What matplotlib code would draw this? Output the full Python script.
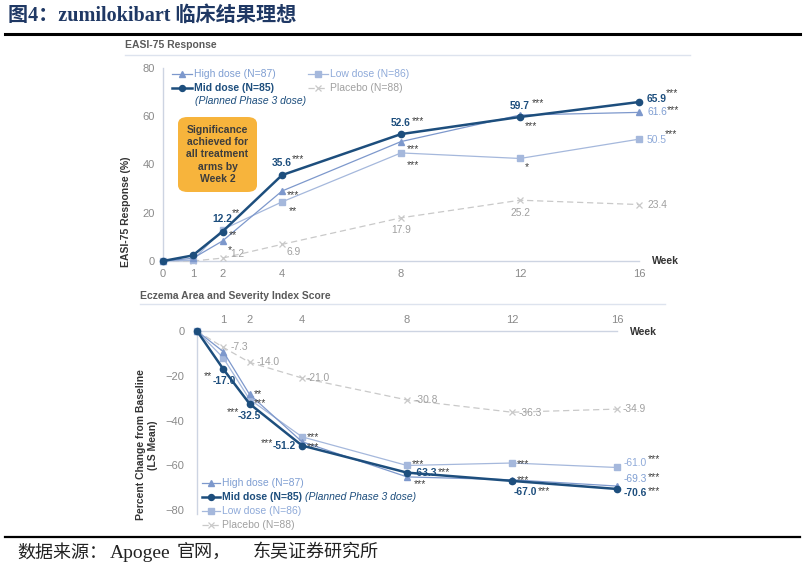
import matplotlib
matplotlib.use("Agg")
import matplotlib.pyplot as plt
from matplotlib.patches import FancyBboxPatch
from matplotlib.lines import Line2D

plt.rcParams["font.family"] = ["Liberation Sans", "DejaVu Sans"]

# ---------------- data ----------------
weeks = [0, 1, 2, 4, 8, 12, 16]
easi_high = [0, 1.1, 8.3, 29.0, 49.5, 60.5, 61.6]
easi_mid = [0, 2.3, 12.2, 35.6, 52.6, 59.7, 65.9]
easi_low = [0, 0.3, 13.0, 24.5, 44.8, 42.5, 50.5]
easi_pbo = [0, 0, 1.2, 6.9, 17.9, 25.2, 23.4]

chg_high = [0, -9.2, -28.3, -49.5, -65.2, -66.5, -69.3]
chg_mid = [0, -17.0, -32.5, -51.2, -63.3, -67.0, -70.6]
chg_low = [0, -12.0, -30.5, -47.3, -60.1, -59.0, -61.0]
chg_pbo = [0, -7.3, -14.0, -21.0, -30.8, -36.3, -34.9]

top_yticks = [0, 20, 40, 60, 80]
bot_yticks = [0, -20, -40, -60, -80]
bot_xticks = [1, 2, 4, 8, 12, 16]

series_names = ["High dose (N=87)", "Mid dose (N=85)", "Low dose (N=86)", "Placebo (N=88)"]

# ---------------- style ----------------
C_MID = "#1d4e7d"
C_HIGH = "#7d98cc"
C_LOW = "#a5b8dc"
C_PBO = "#c9c9c9"
C_HIGH_T = "#7f9ed2"
C_LOW_T = "#8faad9"
C_PBO_T = "#a0a0a0"
C_STAR = "#404040"
C_AX = "#cdd4e2"
C_TICK = "#8a8a8a"

W, H = 805, 571
fig = plt.figure(figsize=(W / 100, H / 100), dpi=100)
fig.patch.set_facecolor("white")


def fx(x):
    return x / W


def fy(y):
    return 1 - y / H


def axes_px(l, t, r, b):
    return fig.add_axes([fx(l), fy(b), (r - l) / W, (b - t) / H])


STY = {
    "high": dict(color=C_HIGH, lw=0.9, marker="^", ms=4.5, mfc=C_HIGH, mec=C_HIGH),
    "mid": dict(color=C_MID, lw=1.8, marker="o", ms=4.5, mfc=C_MID, mec=C_MID),
    "low": dict(color=C_LOW, lw=0.9, marker="s", ms=4.8, mfc=C_LOW, mec=C_LOW),
    "pbo": dict(color=C_PBO, lw=0.9, ls=(0, (5, 3)), marker="x", ms=4, mew=0.9, mfc=C_PBO, mec=C_PBO),
}

PX = 0.72  # pixels -> points
LFS = 7.4


def lab(ax, x, y, s, dx, dy, kind, ha="center"):
    props = {
        "mid": dict(color=C_MID, fontsize=LFS, fontweight="bold"),
        "high": dict(color=C_HIGH_T, fontsize=LFS),
        "low": dict(color=C_LOW_T, fontsize=LFS),
        "pbo": dict(color=C_PBO_T, fontsize=LFS),
        "star": dict(color=C_STAR, fontsize=7.5),
    }[kind]
    if kind == "star":
        dy = dy + 3  # asterisks sit high in the text box
    ax.annotate(s, (x, y), xytext=(dx * PX, -dy * PX), textcoords="offset points",
                ha=ha, va="center", annotation_clip=False, **props)


# ---------------- title & frame ----------------
SERIF_CJK = ["Liberation Serif", "Noto Sans CJK SC"]
fig.text(fx(8), fy(16), "图4：zumilokibart 临床结果理想", fontsize=14.5, fontweight="bold",
         color="#1f3864", family=SERIF_CJK, ha="left", va="center")
fig.add_artist(Line2D([fx(5), fx(800)], [fy(34), fy(34)], color="black", lw=2.2))
fig.add_artist(Line2D([fx(5), fx(800)], [fy(537), fy(537)], color="black", lw=1.6))
for sx, stext, sfs in [(17, "数据来源：", 13), (110, "Apogee", 14), (177, "官网，", 13),
                       (253, "东吴证券研究所", 13)]:
    fig.text(fx(sx), fy(553), stext, fontsize=sfs, color="#222222", family=SERIF_CJK,
             ha="left", va="center")

# ---------------- top panel ----------------
fig.text(fx(125), fy(45), "EASI-75 Response", fontsize=7.5, fontweight="bold", color="#5a5a5a",
         ha="left", va="center")
fig.add_artist(Line2D([fx(125), fx(690)], [fy(55), fy(55)], color="#dde3ee", lw=1.0))

ax1 = axes_px(163, 68, 639, 261)
for key, data in zip(["pbo", "low", "high", "mid"], [easi_pbo, easi_low, easi_high, easi_mid]):
    ax1.plot(weeks, data, clip_on=False, zorder=3 + (key == "mid"), **STY[key])
ax1.set_xlim(0, 16)
ax1.set_ylim(0, 80)
ax1.set_xticks(weeks)
ax1.set_yticks(top_yticks)
ax1.tick_params(length=0, labelsize=8, labelcolor=C_TICK, pad=6)
for s in ["top", "right"]:
    ax1.spines[s].set_visible(False)
for s in ["left", "bottom"]:
    ax1.spines[s].set_color(C_AX)
    ax1.spines[s].set_linewidth(1.0)
ax1.set_facecolor("none")
ax1.set_ylabel("EASI-75 Response (%)", fontsize=7.5, fontweight="bold", color="#333333")
ax1.yaxis.set_label_coords((131 - 163) / 476, (261 - 212) / 193)
fig.text(fx(652), fy(261), "Week", fontsize=7.5, fontweight="bold", color="#333333", ha="left", va="center")

# labels top (mid)
lab(ax1, 2, easi_mid[2], "12.2", 0, -13, "mid")
lab(ax1, 2, easi_mid[2], "**", 13, -21, "star")
lab(ax1, 4, easi_mid[3], "35.6", 0, -12, "mid")
lab(ax1, 4, easi_mid[3], "***", 16, -19, "star")
lab(ax1, 8, easi_mid[4], "52.6", 0, -11, "mid")
lab(ax1, 8, easi_mid[4], "***", 17, -16, "star")
lab(ax1, 12, easi_mid[5], "59.7", 0, -11, "mid")
lab(ax1, 12, easi_mid[5], "***", 18, -17, "star")
lab(ax1, 16, easi_mid[6], "65.9", 8, -3, "mid", ha="left")
lab(ax1, 16, easi_mid[6], "***", 33, -12, "star")
# high
lab(ax1, 2, easi_high[2], "*", 7, 6, "star")
lab(ax1, 4, easi_high[3], "***", 11, 1, "star")
lab(ax1, 8, easi_high[4], "***", 12, 4, "star")
lab(ax1, 12, easi_high[5], "***", 11, 8, "star")
lab(ax1, 16, easi_high[6], "61.6", 8, 0, "high", ha="left")
lab(ax1, 16, easi_high[6], "***", 34, -5, "star")
# low
lab(ax1, 2, easi_low[2], "**", 10, 2, "star")
lab(ax1, 4, easi_low[3], "**", 11, 6, "star")
lab(ax1, 8, easi_low[4], "***", 12, 9, "star")
lab(ax1, 12, easi_low[5], "*", 7, 6, "star")
lab(ax1, 16, easi_low[6], "50.5", 8, 1, "low", ha="left")
lab(ax1, 16, easi_low[6], "***", 32, -8, "star")
# placebo
lab(ax1, 2, easi_pbo[2], "1.2", 15, -4, "pbo")
lab(ax1, 4, easi_pbo[3], "6.9", 12, 8, "pbo")
lab(ax1, 8, easi_pbo[4], "17.9", 0, 12, "pbo")
lab(ax1, 12, easi_pbo[5], "25.2", 0, 13, "pbo")
lab(ax1, 16, easi_pbo[6], "23.4", 8, 0, "pbo", ha="left")


def legend_item(x0, x1, y, key, text, tcolor, bold=False, fs=7.5):
    st = dict(STY[key])
    st["ms"] = st["ms"] * 0.95
    fig.add_artist(Line2D([fx(x0), fx(x1)], [fy(y), fy(y)], **st, markevery=[]))
    fig.add_artist(Line2D([fx((x0 + x1) / 2)], [fy(y)], **{k: v for k, v in st.items() if k not in ("ls",)}))
    return fig.text(fx(x1 + 2), fy(y), text, fontsize=fs, color=tcolor,
                    fontweight="bold" if bold else "normal", ha="left", va="center")


legend_item(172, 192, 74, "high", series_names[0], C_HIGH_T)
legend_item(308, 328, 74, "low", series_names[2], C_LOW_T)
legend_item(172, 192, 88, "mid", series_names[1], C_MID, bold=True)
legend_item(308, 328, 88, "pbo", series_names[3], C_PBO_T)
fig.text(fx(195), fy(101), "(Planned Phase 3 dose)", fontsize=7.5, style="italic", color=C_MID,
         ha="left", va="center")

# orange box
box = FancyBboxPatch((fx(178), fy(192)), fx(257) - fx(178), fy(117) - fy(192),
                     boxstyle="round,pad=0,rounding_size=0.012", transform=fig.transFigure,
                     facecolor="#f7b43c", edgecolor="none", zorder=5)
fig.add_artist(box)
fig.text(fx(217.5), fy(154.5), "Significance\nachieved for\nall treatment\narms by\nWeek 2",
         fontsize=7.5, fontweight="bold", color="#3d3d3d", ha="center", va="center",
         linespacing=1.3, zorder=6)

# ---------------- bottom panel ----------------
fig.text(fx(140), fy(296), "Eczema Area and Severity Index Score", fontsize=7.5, fontweight="bold",
         color="#5a5a5a", ha="left", va="center")
fig.add_artist(Line2D([fx(140), fx(665)], [fy(304), fy(304)], color="#dde3ee", lw=1.0))

ax2 = axes_px(197, 331, 617, 510)
for key, data in zip(["pbo", "low", "high", "mid"], [chg_pbo, chg_low, chg_high, chg_mid]):
    ax2.plot(weeks, data, clip_on=False, zorder=3 + (key == "mid"), **STY[key])
ax2.set_xlim(0, 16)
ax2.set_ylim(-80, 0)
ax2.xaxis.tick_top()
ax2.set_xticks(bot_xticks)
ax2.set_yticks(bot_yticks)
ax2.tick_params(length=0, labelsize=8, labelcolor=C_TICK)
ax2.tick_params(axis="x", pad=4)
ax2.tick_params(axis="y", pad=9)
for s in ["bottom", "right"]:
    ax2.spines[s].set_visible(False)
for s in ["left", "top"]:
    ax2.spines[s].set_color(C_AX)
    ax2.spines[s].set_linewidth(1.0)
ax2.spines["left"].set_bounds(-82, 0)
ax2.set_facecolor("none")
ax2.set_ylabel("Percent Change from Baseline\n(LS Mean)", fontsize=7.5, fontweight="bold",
               color="#333333", linespacing=1.2)
ax2.yaxis.set_label_coords((158 - 197) / 420, (510 - 445) / 179)
fig.text(fx(630), fy(332), "Week", fontsize=7.5, fontweight="bold", color="#333333", ha="left", va="center")

# placebo labels
lab(ax2, 1, chg_pbo[1], "-7.3", 7, 0, "pbo", ha="left")
lab(ax2, 2, chg_pbo[2], "-14.0", 7, 0, "pbo", ha="left")
lab(ax2, 4, chg_pbo[3], "-21.0", 5, 0, "pbo", ha="left")
lab(ax2, 8, chg_pbo[4], "-30.8", 8, 0, "pbo", ha="left")
lab(ax2, 12, chg_pbo[5], "-36.3", 7, 1, "pbo", ha="left")
lab(ax2, 16, chg_pbo[6], "-34.9", 6, 0, "pbo", ha="left")
# mid
lab(ax2, 1, chg_mid[1], "-17.0", 1, 12, "mid")
lab(ax2, 1, chg_mid[1], "**", -15, 4, "star")
lab(ax2, 2, chg_mid[2], "-32.5", 0, 12, "mid")
lab(ax2, 2, chg_mid[2], "***", -17, 5, "star")
lab(ax2, 4, chg_mid[3], "-51.2", -18, 0, "mid")
lab(ax2, 4, chg_mid[3], "***", -35, -5, "star")
lab(ax2, 8, chg_mid[4], "-63.3", 18, 0, "mid")
lab(ax2, 8, chg_mid[4], "***", 37, -4, "star")
lab(ax2, 12, chg_mid[5], "***", 11, -4, "star")
lab(ax2, 12, chg_mid[5], "-67.0", 13, 11, "mid")
lab(ax2, 12, chg_mid[5], "***", 32, 7, "star")
lab(ax2, 16, chg_mid[6], "-70.6", 7, 4, "mid", ha="left")
lab(ax2, 16, chg_mid[6], "***", 37, -1, "star")
# high
lab(ax2, 2, chg_high[2], "**", 8, -3, "star")
lab(ax2, 4, chg_high[3], "***", 11, 2, "star")
lab(ax2, 8, chg_high[4], "***", 13, 4, "star")
lab(ax2, 16, chg_high[6], "-69.3", 7, -7, "high", ha="left")
lab(ax2, 16, chg_high[6], "***", 37, -12, "star")
# low
lab(ax2, 2, chg_low[2], "***", 10, 1, "star")
lab(ax2, 4, chg_low[3], "***", 11, -3, "star")
lab(ax2, 8, chg_low[4], "***", 11, -4, "star")
lab(ax2, 12, chg_low[5], "***", 11, -2, "star")
lab(ax2, 16, chg_low[6], "-61.0", 7, -4, "low", ha="left")
lab(ax2, 16, chg_low[6], "***", 37, -11, "star")

legend_item(202, 220, 483, "high", series_names[0], C_HIGH_T)
t_mid = legend_item(202, 220, 497, "mid", series_names[1], C_MID, bold=True)
fig.add_artist(matplotlib.text.Annotation("(Planned Phase 3 dose)", xy=(1, 0.5), xycoords=t_mid,
                                          xytext=(2.5, 0), textcoords="offset points", fontsize=7.5,
                                          style="italic", color=C_MID, ha="left", va="center"))
legend_item(202, 220, 511, "low", series_names[2], C_LOW_T)
legend_item(202, 220, 525, "pbo", series_names[3], C_PBO_T)

fig.savefig("out.png", dpi=100, facecolor="white")
